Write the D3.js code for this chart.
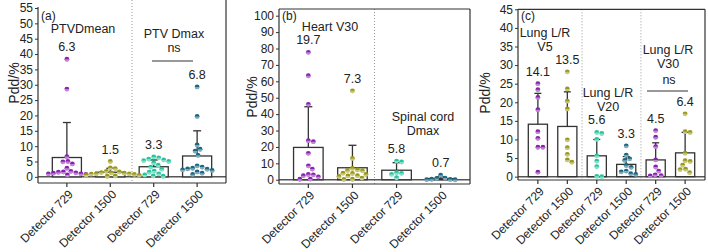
<!DOCTYPE html>
<html lang="en">
<head>
<meta charset="UTF-8">
<title>Pdd by detector</title>
<script src="https://d3js.org/d3.v7.min.js"></script>
<style>
  body { margin: 0; background: #fff; }
  svg { font-family: "Liberation Sans", Arial, sans-serif; }
</style>
</head>
<body>
<svg width="708" height="252"></svg>
<script>
// x categories, repeated in every group
const detectors = ["Detector 729", "Detector 1500"];

// (a) PTV
const aGroups = ["PTVDmean", "PTV Dmax"];
const aMeans = [6.3, 1.5, 3.3, 6.8];
const aSdTop = [17.7, 2.8, 5.5, 15.0];
const aPoints = [
  [38.3, 28.6, 6.6, 5.0, 4.9, 4.2, 2.8, 1.8, 1.6, 1.5, 1.3, 1.2, 1.0, 1.0, 0.8, 0.6],
  [5.0, 2.9, 2.7, 1.8, 1.6, 1.4, 1.3, 1.2, 1.0, 1.0, 0.9, 0.8, 0.6, 0.5, 0.3, 0.2],
  [6.5, 6.2, 5.8, 5.5, 5.3, 5.0, 4.6, 3.8, 3.2, 2.5, 1.9, 1.5, 1.0, 0.6, 0.3, 0.2],
  [29.3, 19.7, 10.4, 9.0, 8.4, 7.0, 3.6, 3.2, 2.8, 2.6, 2.5, 2.3, 2.1, 1.6, 1.2, 0.8]
];
const aTicks = [0, 5, 10, 15, 20, 25, 30, 35, 40, 45, 50, 55];

// (b) heart / spinal cord
const bGroups = ["Heart V30", "Spinal cord\nDmax"];
const bMeans = [19.7, 7.3, 5.8, 0.7];
const bSdTop = [44.5, 21.0, 10.4, 1.8];
const bPoints = [
  [77.7, 63.4, 46.0, 23.8, 23.2, 16.1, 8.5, 6.5, 3.2, 3.0, 2.5, 1.8, 0.4, 0.3],
  [54.2, 13.0, 6.9, 6.0, 5.7, 5.5, 4.0, 3.8, 3.2, 2.5, 2.3, 2.0, 1.0, 0.3, 0.2],
  [11.4, 10.8, 4.3, 3.9, 3.3, 1.2],
  [2.8, 1.0, 0.8, 0.3, 0.2, 0.1, 0.0]
];
const bTicks = [0, 10, 20, 30, 40, 50, 60, 70, 80, 90, 100];

// (c) lungs
const cGroups = ["Lung L/R\nV5", "Lung L/R\nV20", "Lung L/R\nV30"];
const cMeans = [14.1, 13.5, 5.6, 3.3, 4.5, 6.4];
const cSdTop = [22.4, 22.8, 10.0, 5.4, 9.1, 11.9];
const cPoints = [
  [25.0, 23.4, 21.3, 18.0, 12.1, 10.3, 7.9, 7.9, 1.2],
  [28.2, 23.6, 20.3, 18.2, 9.9, 7.8, 6.0, 4.5, 3.9],
  [11.9, 11.6, 10.0, 5.6, 4.2, 2.7, 0.1, 0.0],
  [8.3, 5.8, 4.8, 4.4, 3.0, 2.5, 1.5, 1.3, 0.8, 0.6],
  [12.4, 10.6, 8.1, 4.5, 2.6, 1.5, 0.5, 0.3, 0.2],
  [16.9, 12.1, 11.9, 6.3, 4.3, 4.1, 3.1, 2.0, 1.9, 1.1]
];
const cTicks = [0, 5, 10, 15, 20, 25, 30, 35, 40, 45];

const purple = "#8a22b0", olive = "#9a9818", teal = "#26c49c", darkTeal = "#1b6680";

const panels = [
  { tag: "(a)", groups: aGroups, means: aMeans, sd: aSdTop, points: aPoints, ticks: aTicks,
    domain: [-2, 55], left: 38, right: 226, bottom: 183, top: 8, frameTop: null, pad: 0.33,
    colors: [purple, olive, teal, darkTeal], ylab: [14, 83],
    titles: [[83, 29], [174, 34]], ns: { x: 174, y: 48, x1: 152, x2: 193, ly: 61 } },
  { tag: "(b)", groups: bGroups, means: bMeans, sd: bSdTop, points: bPoints, ticks: bTicks,
    domain: [-2.6, 100], left: 279, right: 470, bottom: 184, top: 15.7, frameTop: 9, pad: 0.33,
    colors: [purple, olive, teal, darkTeal], ylab: [252, 97],
    titles: [[330, 27], [423, 117]], ns: null },
  { tag: "(c)", groups: cGroups, means: cMeans, sd: cSdTop, points: cPoints, ticks: cTicks,
    domain: [-0.9, 45], left: 518, right: 705, bottom: 180, top: 9.3, frameTop: 9.3, pad: 0.35,
    colors: [purple, olive, teal, darkTeal, purple, olive], ylab: [485, 93],
    titles: [[545, 33], [608, 93], [668, 50]], ns: { x: 669, y: 80, x1: 647, x2: 688, ly: 91 } }
];

const svg = d3.select("svg");
const r = 2.4;

// simple greedy beeswarm, offsets found by collision test
function swarm(vals, y, cx) {
  const placed = [];
  const dmin = 2 * r + 0.2;
  vals.forEach(v => {
    const py = y(v);
    for (let k = 0; k < 400; k++) {
      const off = (k % 2 ? 1 : -1) * Math.ceil(k / 2) * 0.5;
      const px = cx + off;
      if (placed.every(p => (p.x - px) ** 2 + (p.y - py) ** 2 >= dmin * dmin)) {
        placed.push({ x: px, y: py, v });
        break;
      }
    }
  });
  return placed;
}

panels.forEach(p => {
  const n = p.means.length;
  const g = svg.append("g");
  const x = d3.scaleBand().domain(d3.range(n)).range([p.left, p.right]).padding(p.pad);
  const y = d3.scaleLinear().domain(p.domain).range([p.bottom, p.top]);
  const cx = i => x(i) + x.bandwidth() / 2;
  const top = p.frameTop === null ? 0 : p.frameTop;

  // dotted separators between groups
  for (let i = 1; i < n / 2; i++) {
    const sx = (cx(2 * i - 1) + cx(2 * i)) / 2;
    g.append("line").attr("x1", sx).attr("x2", sx).attr("y1", top).attr("y2", p.bottom)
      .attr("stroke", "#999").attr("stroke-width", 1).attr("stroke-dasharray", "1,2");
  }

  // zero line
  g.append("line").attr("x1", p.left).attr("x2", p.right).attr("y1", y(0)).attr("y2", y(0))
    .attr("stroke", "#555").attr("stroke-width", 1.5);

  // bars
  g.selectAll("rect.bar").data(p.means).join("rect")
    .attr("x", (d, i) => x(i)).attr("width", x.bandwidth())
    .attr("y", d => y(d)).attr("height", d => y(0) - y(d))
    .attr("fill", "#fff").attr("stroke", "#333").attr("stroke-width", 1.3);

  // error bars (upper)
  const cap = x.bandwidth() > 25 ? 4 : 3.5;
  p.sd.forEach((s, i) => {
    g.append("line").attr("x1", cx(i)).attr("x2", cx(i)).attr("y1", y(p.means[i])).attr("y2", y(s))
      .attr("stroke", "#333").attr("stroke-width", 1.3);
    g.append("line").attr("x1", cx(i) - cap).attr("x2", cx(i) + cap).attr("y1", y(s)).attr("y2", y(s))
      .attr("stroke", "#333").attr("stroke-width", 1.3);
  });

  // points
  p.points.forEach((vals, i) => {
    const pts = swarm(vals, y, cx(i));
    const col = p.colors[i];
    pts.forEach(d => {
      g.append("circle").attr("cx", d.x).attr("cy", d.y).attr("r", r).attr("fill", col);
      g.append("path")
        .attr("d", `M${d.x - r},${d.y} A${r},${r} 0 0 0 ${d.x + r},${d.y} Z`)
        .attr("fill", "#fff").attr("opacity", 0.45);
    });
    // mean label above highest point
    const hi = Math.max(d3.max(vals), p.sd[i]);
    g.append("text").attr("x", cx(i)).attr("y", y(hi) - 8)
      .attr("text-anchor", "middle").attr("font-size", 12.5).attr("fill", "#222")
      .text(d3.format(".1f")(p.means[i]));
  });

  // frame
  g.append("line").attr("x1", p.left).attr("x2", p.right).attr("y1", p.bottom).attr("y2", p.bottom)
    .attr("stroke", "#333").attr("stroke-width", 1.2);
  g.append("line").attr("x1", p.right).attr("x2", p.right).attr("y1", top).attr("y2", p.bottom)
    .attr("stroke", "#333").attr("stroke-width", 1.2);
  if (p.frameTop !== null) {
    g.append("line").attr("x1", p.left).attr("x2", p.right).attr("y1", p.frameTop).attr("y2", p.frameTop)
      .attr("stroke", "#333").attr("stroke-width", 1.2);
  }

  // y axis
  const ax = g.append("g").attr("transform", `translate(${p.left},0)`)
    .call(d3.axisLeft(y).tickValues(p.ticks).tickSize(3).tickPadding(2));
  ax.select(".domain").remove();
  ax.selectAll("line").attr("stroke", "#333");
  ax.selectAll("text").attr("font-size", 12).attr("fill", "#222")
    .style("font-family", '"Liberation Sans", Arial, sans-serif');
  g.append("line").attr("x1", p.left).attr("x2", p.left)
    .attr("y1", p.frameTop === null ? p.top - 1 : p.frameTop).attr("y2", p.bottom)
    .attr("stroke", "#333").attr("stroke-width", 1.2);

  // x ticks and rotated labels
  d3.range(n).forEach(i => {
    g.append("line").attr("x1", cx(i)).attr("x2", cx(i)).attr("y1", p.bottom).attr("y2", p.bottom + 4)
      .attr("stroke", "#333").attr("stroke-width", 1.2);
    g.append("text").attr("transform", `translate(${cx(i) + 4},${p.bottom + 9}) rotate(-45)`)
      .attr("text-anchor", "end").attr("dy", "0.35em").attr("font-size", 12).attr("fill", "#222")
      .text(detectors[i % 2]);
  });

  // y title
  g.append("text").attr("transform", `translate(${p.ylab[0]},${p.ylab[1]}) rotate(-90)`)
    .attr("text-anchor", "middle").attr("dy", "0.35em").attr("font-size", 14).attr("fill", "#222")
    .text("Pdd/%");

  // panel tag
  g.append("text").attr("x", p.left + 3).attr("y", 16).attr("dy", "0.35em")
    .attr("font-size", 12).attr("fill", "#222").text(p.tag);

  // group titles
  p.groups.forEach((t, k) => {
    const lines = t.split("\n");
    const tx = g.append("text").attr("text-anchor", "middle").attr("font-size", 12.5).attr("fill", "#222");
    lines.forEach((ln, j) => {
      tx.append("tspan").attr("x", p.titles[k][0]).attr("y", p.titles[k][1] + j * 13.5)
        .attr("dy", "0.35em").text(ln);
    });
  });

  // ns annotation
  if (p.ns) {
    g.append("text").attr("x", p.ns.x).attr("y", p.ns.y).attr("dy", "0.35em")
      .attr("text-anchor", "middle").attr("font-size", 12.5).attr("fill", "#222").text("ns");
    g.append("line").attr("x1", p.ns.x1).attr("x2", p.ns.x2).attr("y1", p.ns.ly).attr("y2", p.ns.ly)
      .attr("stroke", "#333").attr("stroke-width", 1.2);
  }
});
</script>
</body>
</html>
